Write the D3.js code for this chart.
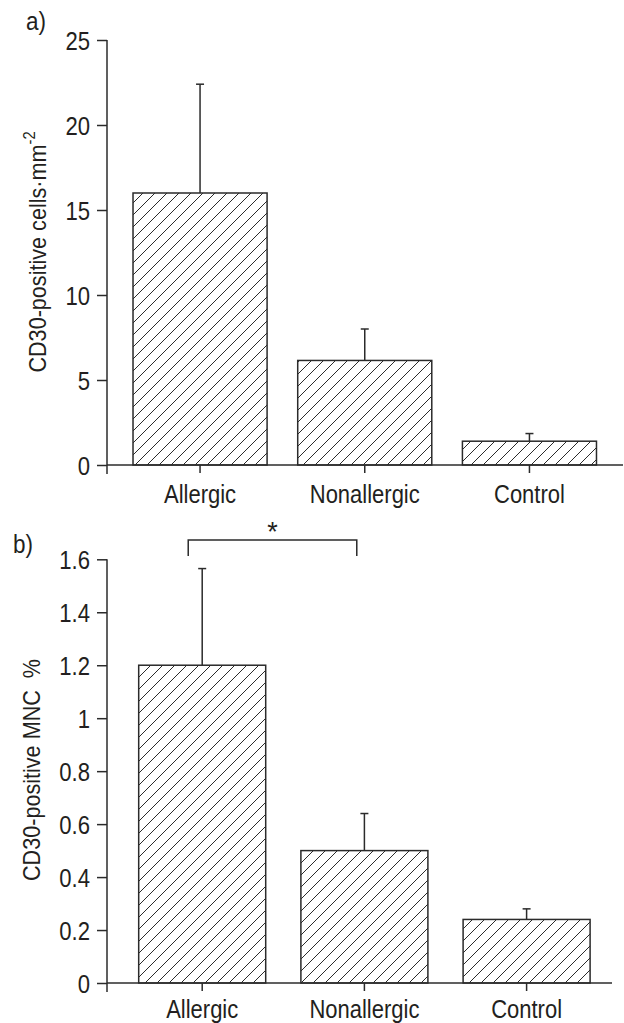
<!DOCTYPE html>
<html>
<head>
<meta charset="utf-8">
<script src="https://cdn.jsdelivr.net/npm/d3@7"></script>
<style>
  html, body { margin: 0; padding: 0; background: #fff; }
  svg { display: block; }
  text { font-family: "Liberation Sans", Arial, sans-serif; fill: #231f20; }
</style>
</head>
<body>
<svg id="chart" width="624" height="1023"></svg>
<script>
// ---- data ----
const categories = ["Allergic", "Nonallergic", "Control"];
const cellsMean = [16.0, 6.15, 1.4];
const cellsUpper = [22.4, 8.0, 1.85];
const cellsTicks = [0, 5, 10, 15, 20, 25];
const cellsTickLabels = ["0", "5", "10", "15", "20", "25"];
const mncMean = [1.2, 0.5, 0.24];
const mncUpper = [1.565, 0.64, 0.28];
const mncTicks = [0, 0.2, 0.4, 0.6, 0.8, 1.0, 1.2, 1.4, 1.6];
const mncTickLabels = ["0", "0.2", "0.4", "0.6", "0.8", "1", "1.2", "1.4", "1.6"];
const comparison = ["Allergic", "Nonallergic"];
const comparisonLabel = "*";

const svg = d3.select("#chart");
const ink = "#2b2b2b";

// hatch pattern
const defs = svg.append("defs");
const pat = defs.append("pattern")
  .attr("id", "hatch").attr("patternUnits", "userSpaceOnUse")
  .attr("width", 12).attr("height", 12);
pat.append("path")
  .attr("d", "M0,12 L12,0 M-3,3 L3,-3 M9,15 L15,9")
  .attr("stroke", ink).attr("stroke-width", 1).attr("fill", "none");

function panel(opts) {
  const g = svg.append("g");
  const y = d3.scaleLinear().domain(opts.yDomain).range(opts.yRange);
  const x = d3.scaleBand().domain(categories).range(opts.xRange)
    .paddingInner(opts.padInner).paddingOuter(opts.padInner / 2);
  const axisX = opts.axisX;
  const base = y(0);

  // y axis ticks + labels
  const ya = d3.axisLeft(y).tickValues(opts.ticks)
    .tickFormat((d, i) => opts.tickLabels[i])
    .tickSize(10).tickPadding(7);
  const yg = g.append("g").attr("transform", `translate(${axisX},0)`).call(ya);
  yg.select(".domain").remove();
  yg.selectAll(".tick line").attr("stroke", ink).attr("stroke-width", 1.5);
  yg.selectAll(".tick text")
    .attr("font-size", 26).attr("fill", "#231f20")
    .attr("font-family", "'Liberation Sans', Arial, sans-serif")
    .attr("x", 0).attr("dy", "0.36em")
    .attr("transform", "translate(-17,0) scale(0.85,1)");

  // y axis line
  g.append("line").attr("x1", axisX).attr("x2", axisX)
    .attr("y1", y(opts.yDomain[1])).attr("y2", base + 9)
    .attr("stroke", ink).attr("stroke-width", 1.5);

  // bars
  g.selectAll("rect.bar").data(categories).join("rect")
    .attr("x", d => x(d)).attr("width", x.bandwidth())
    .attr("y", (d, i) => y(opts.mean[i]))
    .attr("height", (d, i) => base - y(opts.mean[i]))
    .attr("fill", "url(#hatch)").attr("stroke", ink).attr("stroke-width", 1.5);

  // error bars
  categories.forEach((c, i) => {
    const cx = x(c) + x.bandwidth() / 2;
    g.append("line").attr("x1", cx).attr("x2", cx)
      .attr("y1", y(opts.mean[i])).attr("y2", y(opts.upper[i]))
      .attr("stroke", ink).attr("stroke-width", 1.5);
    g.append("line").attr("x1", cx - 4).attr("x2", cx + 4)
      .attr("y1", y(opts.upper[i])).attr("y2", y(opts.upper[i]))
      .attr("stroke", ink).attr("stroke-width", 1.5);
  });

  // x axis line
  g.append("line").attr("x1", axisX).attr("x2", opts.xAxisEnd)
    .attr("y1", base).attr("y2", base).attr("stroke", ink).attr("stroke-width", 1.5);
  // x ticks + labels
  categories.forEach(c => {
    const cx = x(c) + x.bandwidth() / 2;
    g.append("line").attr("x1", cx).attr("x2", cx).attr("y1", base).attr("y2", base + 8)
      .attr("stroke", ink).attr("stroke-width", 1.5);
    g.append("text")
      .attr("transform", `translate(${cx},${base + opts.catDy}) scale(0.88,1)`)
      .attr("text-anchor", "middle").attr("font-size", 25).text(c);
  });

  // axis title
  const t = g.append("text")
    .attr("transform", `translate(${opts.titleX},${opts.titleY}) rotate(-90) scale(0.92,1)`)
    .attr("text-anchor", "middle").attr("font-size", 23.5);
  opts.title(t);

  // panel label
  g.append("text").attr("transform", `translate(${opts.labelX},${opts.labelY}) scale(0.9,1)`)
    .attr("font-size", 25).text(opts.label);

  return { x, y, g };
}

panel({
  yDomain: [0, 25], yRange: [465, 40], xRange: [117.7, 611.8], padInner: 0.186,
  axisX: 107, xAxisEnd: 623, ticks: cellsTicks, tickLabels: cellsTickLabels,
  mean: cellsMean, upper: cellsUpper, catDy: 38,
  titleX: 46, titleY: 252,
  title: t => {
    t.append("tspan").text("CD30-positive cells\u00b7mm");
    t.append("tspan").attr("font-size", 16).attr("dy", "-0.7em").text("-2");
  },
  label: "a)", labelX: 26, labelY: 30
});

const pb = panel({
  yDomain: [0, 1.6], yRange: [983, 559.3], xRange: [121.1, 607.7], padInner: 0.217,
  axisX: 107, xAxisEnd: 612, ticks: mncTicks, tickLabels: mncTickLabels,
  mean: mncMean, upper: mncUpper, catDy: 35,
  titleX: 40, titleY: 770,
  title: t => { t.attr("xml:space", "preserve").text("CD30-positive MNC  %"); },
  label: "b)", labelX: 13, labelY: 553
});

// significance bracket
const bx1 = pb.x(comparison[0]) + pb.x.bandwidth() * 0.39;
const bx2 = pb.x(comparison[1]) + pb.x.bandwidth() * 0.44;
pb.g.append("path")
  .attr("d", `M${bx1},556 V540 H${bx2} V556`)
  .attr("fill", "none").attr("stroke", ink).attr("stroke-width", 1.5);
pb.g.append("text").attr("x", (bx1 + bx2) / 2).attr("y", 541)
  .attr("text-anchor", "middle").attr("font-size", 27).text(comparisonLabel);
</script>
</body>
</html>
